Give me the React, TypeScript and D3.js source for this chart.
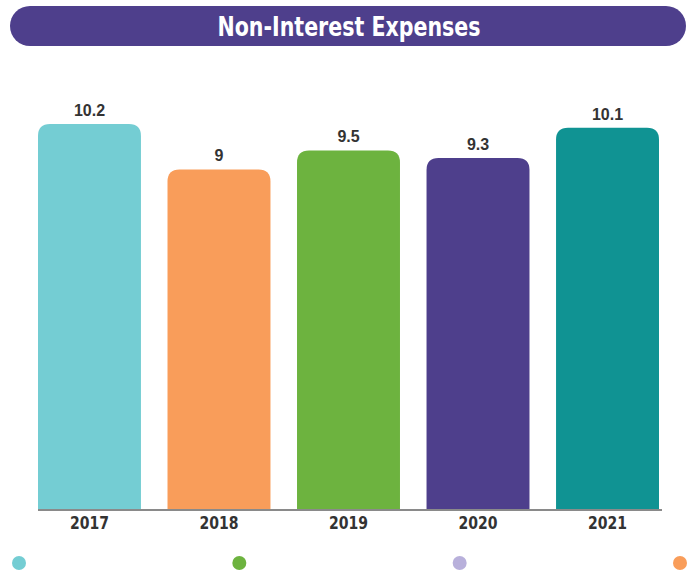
import React from 'react';
import * as d3 from 'd3';

// values
const years = ['2017', '2018', '2019', '2020', '2021'];
const values = [10.2, 9, 9.5, 9.3, 10.1];
const barColors = ['#74CDD3', '#F99D5A', '#6DB33F', '#4E3F8C', '#109393'];
const legendColors = ['#74CDD3', '#6DB33F', '#B8B0DB', '#F99D5A'];

const W = 694;
const H = 571;
const baseY = 510;

const condensed = '"Liberation Sans Narrow", "DejaVu Sans Condensed", "Roboto", sans-serif';

const roundedTop = (x: number, y: number, w: number, h: number, r: number) => {
  return `M${x},${y + h} L${x},${y + r} Q${x},${y} ${x + r},${y} L${x + w - r},${y} Q${x + w},${y} ${x + w},${y + r} L${x + w},${y + h} Z`;
};

const App: React.FC = () => {
  const x = d3.scaleBand().domain(years).range([38, 659]).paddingInner(0.205).paddingOuter(0);
  const y = d3.scaleLinear().domain([0, 10.2]).range([baseY, 124]);
  const legendX = d3.scalePoint().domain(legendColors.map((_, i) => String(i))).range([19, 680]);

  return <div style={{ position: 'absolute', left: 0, top: 0 }}>
      <svg width={W} height={H} style={{ display: 'block', background: '#fff' }}>
        {/* title pill */}
        <rect x={10} y={6} width={676} height={40} rx={20} ry={20} fill="#4E3F8C" />
        <text x={349} y={36} textAnchor="middle" fill="#fff" fontFamily={condensed} fontWeight="bold" fontSize={27} textLength={263} lengthAdjust="spacingAndGlyphs">
          Non-Interest Expenses
        </text>
        {/* bars */}
        {years.map((yr, i) => {
        const bx = x(yr) || 0;
        const top = y(values[i]);
        return <g key={yr}>
              <path d={roundedTop(bx, top, x.bandwidth(), baseY - top, 12)} fill={barColors[i]} />
              <text x={bx + x.bandwidth() / 2} y={top - 8} textAnchor="middle" fill="#333" fontFamily='"Liberation Sans", Arial, sans-serif' fontWeight="bold" fontSize={16}>
                {values[i]}
              </text>
              <text x={bx + x.bandwidth() / 2} y={529} textAnchor="middle" fill="#333" fontFamily={condensed} fontWeight="bold" fontSize={18} textLength={39} lengthAdjust="spacingAndGlyphs">
                {yr}
              </text>
            </g>;
      })}
        {/* axis line */}
        <line x1={38} x2={662} y1={baseY} y2={baseY} stroke="#8a8a8a" strokeWidth={2} />
        {/* legend dots */}
        {legendColors.map((c, i) => <circle key={i} cx={legendX(String(i))} cy={563} r={7} fill={c} />)}
      </svg>
    </div>;
};

export default App;
